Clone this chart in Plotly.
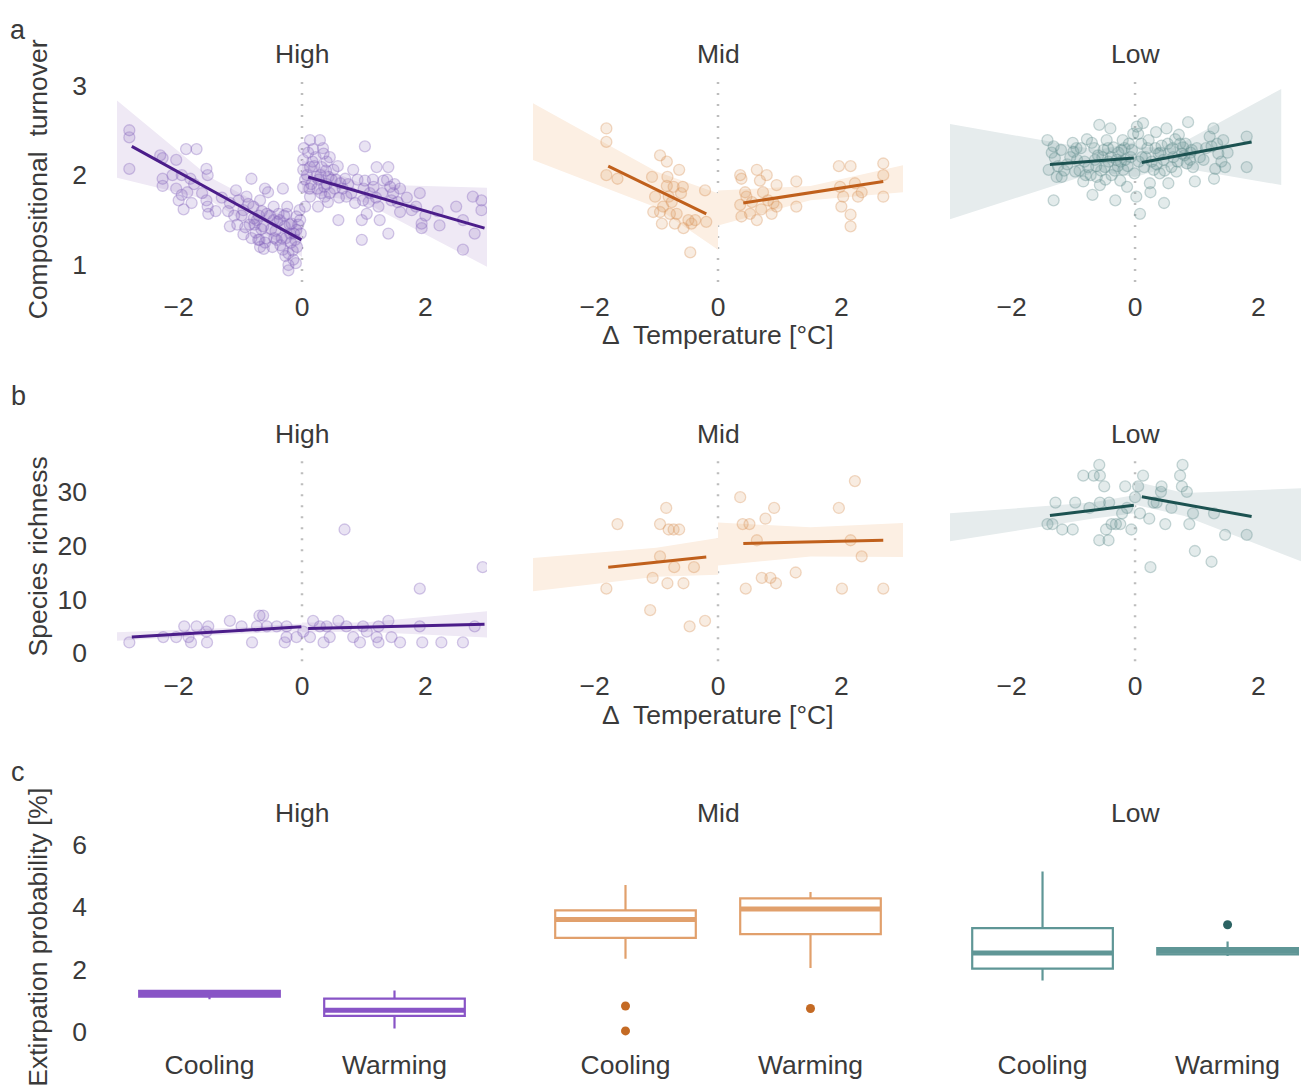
import plotly.graph_objects as go

W, H = 1309, 1090
FONT = "Liberation Sans"
TXT = "#3a3a3a"
FS = 26.5

levels = ["High", "Mid", "Low"]
groups = ["Cooling", "Warming"]
x_ticks = [-2, 0, 2]
turn_ticks = [1, 2, 3]
rich_ticks = [0, 10, 20, 30]
ext_ticks = [0, 2, 4, 6]

# ---------------- a: compositional turnover (x = dT, y = turnover) ----------------
turn_high_cool = [(-2.80, 2.50), (-2.80, 2.42), (-2.80, 2.07), (-2.26, 2.19), (-2.26, 1.96), (-2.26, 1.88),
                  (-2.04, 2.17), (-2.04, 1.85), (-2.00, 1.72), (-1.92, 1.62), (-1.88, 2.29), (-1.86, 1.81),
                  (-1.81, 1.96), (-1.71, 2.29), (-1.79, 1.69), (-1.55, 2.07), (-1.53, 2.00), (-1.55, 1.72),
                  (-1.52, 1.57), (-1.53, 1.65), (-1.17, 1.69), (-1.17, 1.43), (-1.07, 1.83), (-1.03, 1.72),
                  (-0.95, 1.61), (-0.95, 1.34), (-0.90, 1.76), (-0.82, 1.96), (-0.79, 1.65), (-0.78, 1.52),
                  (-0.73, 1.50), (-0.69, 1.28), (-0.68, 1.72), (-0.63, 1.43), (-0.60, 1.85), (-0.57, 1.57),
                  (-0.55, 1.81), (-0.46, 1.50), (-0.46, 1.65), (-0.41, 1.28), (-0.38, 1.57), (-0.31, 1.85),
                  (-0.31, 1.17), (-0.28, 1.43), (-0.25, 1.57), (-0.24, 1.65), (-0.22, 1.13), (-0.19, 1.35),
                  (-0.17, 1.46), (-0.14, 1.06), (-0.11, 1.28), (-0.09, 1.54), (-0.09, 1.39), (-0.04, 1.61),
                  (-0.22, 0.94), (-0.22, 1.00), (-0.71, 1.28), (-0.68, 1.20), (-2.30, 2.22), (-1.95, 2.00),
                  (-1.62, 1.80), (-1.40, 1.60), (-1.30, 1.75), (-1.10, 1.55), (-0.85, 1.45), (-0.75, 1.36),
                  (-0.60, 1.25), (-0.50, 1.40), (-0.45, 1.30), (-0.35, 1.22), (-0.26, 1.30), (-0.15, 1.16),
                  (-0.06, 1.45), (-0.10, 1.02), (-0.65, 1.60), (-0.40, 1.48), (-2.10, 2.00), (-1.95, 1.78),
                  (-1.75, 1.90), (-1.20, 1.60), (-1.05, 1.45), (-0.98, 1.55), (-0.92, 1.42), (-0.87, 1.68),
                  (-0.82, 1.30), (-0.77, 1.45), (-0.70, 1.55), (-0.66, 1.40), (-0.62, 1.18), (-0.58, 1.30),
                  (-0.52, 1.55), (-0.48, 1.20), (-0.43, 1.38), (-0.36, 1.50), (-0.33, 1.30), (-0.29, 1.55),
                  (-0.27, 1.10), (-0.20, 1.45), (-0.18, 1.25), (-0.13, 1.35), (-0.08, 1.20), (-0.03, 1.50),
                  (-0.02, 1.35)]
turn_high_warm = [(0.02, 2.06), (0.02, 1.87), (0.02, 2.17), (0.05, 1.65), (0.13, 2.39), (0.13, 2.09),
                  (0.13, 1.76), (0.18, 2.29), (0.23, 1.98), (0.26, 1.65), (0.29, 2.39), (0.32, 2.09),
                  (0.35, 2.24), (0.36, 1.87), (0.37, 1.76), (0.40, 2.15), (0.43, 1.98), (0.45, 1.80),
                  (0.51, 2.06), (0.59, 1.50), (0.62, 1.91), (0.70, 1.96), (0.72, 1.76), (0.83, 2.06),
                  (0.86, 1.69), (0.97, 1.50), (0.99, 1.72), (1.02, 2.32), (1.02, 1.94), (1.05, 1.57),
                  (1.10, 1.80), (1.16, 1.87), (1.21, 2.09), (1.24, 1.65), (1.26, 1.50), (1.32, 1.94),
                  (1.40, 2.09), (1.40, 1.35), (1.43, 1.87), (1.45, 1.72), (1.48, 1.80), (1.59, 1.85),
                  (1.59, 1.59), (1.78, 1.61), (1.91, 1.80), (1.94, 1.46), (1.94, 1.41), (2.23, 1.44),
                  (2.61, 1.50), (2.61, 1.17), (2.77, 1.76), (2.80, 1.35), (2.91, 1.72), (2.91, 1.61),
                  (0.97, 1.28), (0.05, 1.95), (0.10, 2.25), (0.20, 2.10), (0.25, 1.85), (0.30, 2.00),
                  (0.45, 2.20), (0.55, 1.95), (0.60, 1.75), (0.40, 1.90), (0.15, 1.90), (0.03, 2.30),
                  (0.08, 2.00), (0.12, 1.85), (0.17, 2.15), (0.22, 2.20), (0.27, 1.95), (0.31, 1.80),
                  (0.34, 2.30), (0.39, 2.05), (0.42, 1.70), (0.48, 1.95), (0.53, 1.85), (0.58, 2.10),
                  (0.66, 1.85), (0.75, 1.90), (0.80, 1.80), (0.90, 1.95), (1.00, 1.85), (1.08, 1.70),
                  (1.15, 1.95), (1.20, 1.75), (1.30, 1.80), (1.38, 1.95), (1.50, 1.90), (1.55, 1.70),
                  (1.70, 1.75), (1.85, 1.65), (2.00, 1.55), (2.20, 1.60), (2.50, 1.65)]
turn_mid_cool = [(-1.81, 2.52), (-1.81, 2.37), (-1.81, 2.00), (-1.63, 1.96), (-1.07, 1.98), (-1.02, 1.76),
                 (-0.94, 2.22), (-0.91, 1.46), (-0.89, 1.65), (-0.83, 2.15), (-0.82, 1.98), (-0.80, 1.76),
                 (-0.78, 1.57), (-0.72, 1.87), (-0.70, 1.46), (-0.67, 1.57), (-0.63, 2.06), (-0.57, 1.87),
                 (-0.56, 1.41), (-0.48, 1.50), (-0.45, 1.14), (-0.43, 1.46), (-0.37, 1.50), (-0.21, 1.83),
                 (-0.19, 1.48), (-0.83, 1.88), (-0.94, 1.59), (-1.05, 1.59), (-0.75, 1.70), (-0.60, 1.80)]
turn_mid_warm = [(0.36, 2.00), (0.38, 1.96), (0.36, 1.67), (0.38, 1.54), (0.44, 1.81), (0.46, 1.76),
                 (0.52, 1.57), (0.63, 2.06), (0.63, 1.50), (0.68, 1.94), (0.73, 1.81), (0.79, 2.00),
                 (0.81, 1.72), (0.87, 1.57), (0.90, 1.69), (0.95, 1.89), (0.95, 1.65), (1.27, 1.93),
                 (1.27, 1.65), (1.96, 2.10), (1.98, 1.87), (2.00, 1.65), (2.03, 1.76), (2.15, 2.10),
                 (2.15, 1.56), (2.15, 1.43), (2.22, 1.91), (2.27, 1.76), (2.33, 1.81), (2.68, 2.13),
                 (2.68, 2.00), (2.68, 1.76), (0.55, 1.70), (0.70, 1.62)]
turn_low_cool = [(-1.42, 2.39), (-1.40, 2.06), (-1.32, 2.32), (-1.32, 1.72), (-1.30, 2.19), (-1.27, 1.98),
                 (-1.19, 1.98), (-1.01, 2.36), (-1.00, 2.26), (-0.97, 2.04), (-0.94, 2.17), (-0.84, 1.93),
                 (-0.76, 2.09), (-0.70, 2.36), (-0.69, 1.78), (-0.65, 2.17), (-0.62, 1.98), (-0.58, 2.56),
                 (-0.57, 1.89), (-0.51, 2.28), (-0.49, 2.09), (-0.46, 2.39), (-0.43, 2.15), (-0.40, 2.52),
                 (-0.38, 2.00), (-0.35, 2.31), (-0.32, 1.72), (-0.30, 2.17), (-0.24, 1.94), (-0.22, 2.28),
                 (-0.20, 2.39), (-0.19, 2.06), (-0.16, 2.17), (-0.13, 1.87), (-0.05, 2.28), (-0.03, 2.46),
                 (-0.01, 2.02), (-1.10, 2.12), (-0.88, 2.30), (-0.55, 2.05), (-0.28, 2.10), (-0.60, 2.22),
                 (-0.10, 2.35), (-0.80, 2.00), (-1.20, 2.28), (-1.35, 2.25), (-1.25, 2.10), (-1.15, 2.05),
                 (-1.05, 2.20), (-0.95, 2.30), (-0.90, 2.05), (-0.82, 2.15), (-0.78, 2.40), (-0.72, 2.00),
                 (-0.66, 2.30), (-0.63, 2.10), (-0.53, 2.20), (-0.48, 1.95), (-0.44, 2.30), (-0.39, 2.20),
                 (-0.33, 2.05), (-0.27, 2.25), (-0.23, 2.15), (-0.17, 2.30), (-0.12, 2.10), (-0.07, 2.20)]
turn_low_warm = [(0.02, 1.76), (0.03, 2.54), (0.05, 2.46), (0.08, 1.57), (0.11, 2.20), (0.13, 2.58),
                 (0.15, 2.09), (0.22, 2.39), (0.24, 1.91), (0.25, 1.81), (0.30, 2.06), (0.34, 2.48),
                 (0.38, 2.24), (0.40, 2.02), (0.43, 2.33), (0.46, 2.17), (0.47, 1.69), (0.51, 2.52),
                 (0.54, 1.91), (0.57, 2.28), (0.59, 2.09), (0.62, 2.20), (0.67, 2.04), (0.73, 2.35),
                 (0.76, 2.24), (0.78, 2.31), (0.84, 2.13), (0.86, 2.59), (0.89, 2.17), (0.92, 2.28),
                 (0.94, 2.09), (0.97, 1.93), (1.11, 2.17), (1.21, 2.43), (1.24, 2.32), (1.27, 2.52),
                 (1.28, 1.96), (1.30, 2.07), (1.35, 2.24), (1.43, 2.39), (1.46, 2.09), (1.81, 2.43),
                 (1.81, 2.09), (0.20, 2.30), (0.35, 2.12), (0.65, 2.40), (0.80, 2.22), (1.00, 2.30),
                 (0.06, 2.15), (0.10, 2.35), (0.17, 2.20), (0.27, 2.15), (0.33, 2.30), (0.41, 2.25),
                 (0.48, 2.05), (0.53, 2.35), (0.61, 2.30), (0.69, 2.15), (0.71, 2.45), (0.82, 2.35),
                 (0.90, 2.25), (1.05, 2.20), (1.15, 2.30), (1.33, 2.35), (1.40, 2.15), (1.50, 2.25)]

# fitted segments: (x_start, y_start, x_end, y_end)
turn_fit = {"High": [(-2.76, 2.32, -0.01, 1.28), (0.10, 1.98, 2.96, 1.41)],
            "Mid": [(-1.78, 2.10, -0.19, 1.57), (0.41, 1.69, 2.68, 1.93)],
            "Low": [(-1.38, 2.12, -0.02, 2.19), (0.11, 2.14, 1.89, 2.37)]}
# confidence bands: (x, lower, upper)
turn_band = {"High": [([-3.0, -1.5, 0.0], [1.97, 1.72, 1.09], [2.83, 1.98, 1.43]),
                      ([0.0, 1.0, 3.0], [1.80, 1.70, 0.98], [2.17, 1.90, 1.86])],
             "Mid": [([-3.0, -1.0, 0.0], [2.17, 1.64, 1.17], [2.80, 2.04, 1.80]),
                     ([0.0, 1.5, 3.0], [1.44, 1.72, 1.81], [1.83, 1.88, 2.11])],
             "Low": [([-3.0, -0.6, 0.0], [1.51, 2.04, 1.98], [2.57, 2.28, 2.37]),
                     ([0.0, 0.6, 2.37], [1.98, 2.10, 1.89], [2.32, 2.30, 2.96])]}

# ---------------- b: species richness ----------------
rich_high = [(-2.80, 2), (-2.25, 3), (-2.04, 3), (-1.91, 5), (-1.84, 3), (-1.80, 2), (-1.71, 5), (-1.54, 2),
             (-1.52, 5), (-1.55, 4), (-1.17, 6), (-0.98, 5), (-0.81, 2), (-0.73, 5), (-0.69, 7), (-0.63, 7),
             (-0.57, 5), (-0.41, 5), (-0.28, 2), (-0.25, 3), (-0.25, 5), (-0.09, 3), (0.02, 4), (0.13, 3),
             (0.18, 6), (0.29, 5), (0.35, 2), (0.40, 5), (0.45, 3), (0.59, 6), (0.69, 23), (0.72, 5),
             (0.83, 3), (0.99, 5), (0.94, 2), (1.05, 4), (1.21, 3), (1.24, 5), (1.24, 2), (1.40, 6),
             (1.45, 3), (1.59, 2), (1.91, 12), (1.91, 5), (1.95, 2), (2.26, 2), (2.61, 2), (2.80, 5),
             (2.93, 16)]
rich_mid = [(-1.81, 12), (-1.63, 24), (-1.10, 8), (-1.06, 14), (-0.94, 24), (-0.94, 18), (-0.84, 27),
            (-0.82, 13), (-0.80, 23), (-0.72, 23), (-0.71, 16), (-0.63, 23), (-0.56, 13), (-0.46, 5),
            (-0.39, 16), (-0.21, 6), (0.36, 29), (0.40, 24), (0.45, 12), (0.51, 24), (0.63, 21),
            (0.71, 14), (0.77, 25), (0.85, 14), (0.91, 27), (0.94, 13), (1.26, 15), (1.96, 27),
            (2.01, 12), (2.15, 21), (2.22, 32), (2.33, 18), (2.68, 12)]
rich_low = [(-1.42, 24), (-1.34, 24), (-1.29, 28), (-1.18, 23), (-1.01, 23), (-0.97, 28), (-0.84, 33),
            (-0.74, 27), (-0.67, 33), (-0.58, 35), (-0.58, 21), (-0.57, 33), (-0.57, 28), (-0.50, 31),
            (-0.47, 23), (-0.43, 21), (-0.42, 28), (-0.38, 24), (-0.31, 24), (-0.24, 24), (-0.21, 26),
            (-0.16, 31), (-0.13, 27), (-0.06, 23), (0.00, 29), (0.05, 31), (0.08, 26), (0.13, 33),
            (0.23, 25), (0.25, 16), (0.30, 28), (0.35, 28), (0.43, 31), (0.42, 30), (0.49, 24),
            (0.59, 27), (0.73, 33), (0.77, 35), (0.76, 31), (0.84, 30), (0.88, 24), (0.94, 26),
            (0.97, 19), (1.24, 17), (1.28, 26), (1.46, 22), (1.81, 22)]

rich_fit = {"High": [(-2.76, 3.0, -0.01, 4.9), (0.10, 4.6, 2.96, 5.4)],
            "Mid": [(-1.78, 16.0, -0.19, 17.9), (0.41, 20.4, 2.68, 21.0)],
            "Low": [(-1.38, 25.6, -0.02, 27.5), (0.11, 29.1, 1.89, 25.4)]}
rich_band = {"High": [([-3.0, -1.0, 0.0], [2.3, 3.6, 4.1], [3.9, 4.8, 5.5]),
                      ([0.0, 1.0, 3.0], [3.9, 4.0, 2.9], [5.7, 5.7, 7.8])],
             "Mid": [([-3.0, -1.0, 0.0], [11.5, 14.2, 14.6], [17.7, 19.6, 21.4]),
                     ([0.0, 1.5, 3.0], [16.3, 18.0, 17.9], [24.3, 23.4, 24.2])],
             "Low": [([-3.0, -0.7, 0.0], [20.8, 25.0, 26.0], [26.0, 28.0, 29.4]),
                     ([0.0, 0.8, 2.82], [27.6, 25.5, 16.5], [31.9, 29.8, 30.7])]}

# ---------------- c: extirpation probability box statistics ----------------
# (lower whisker, q1, median, q3, upper whisker)
ext_stats = {"High": {"Cooling": (1.04, 1.12, 1.22, 1.31, 1.32), "Warming": (0.10, 0.50, 0.68, 1.06, 1.32)},
             "Mid": {"Cooling": (2.34, 3.01, 3.60, 3.89, 4.71), "Warming": (2.04, 3.13, 3.94, 4.28, 4.48)},
             "Low": {"Cooling": (1.64, 2.02, 2.52, 3.32, 5.14), "Warming": (2.43, 2.48, 2.58, 2.68, 2.89)}}
ext_outliers = {"High": {"Cooling": [], "Warming": []},
                "Mid": {"Cooling": [0.82, 0.02], "Warming": [0.74]},
                "Low": {"Cooling": [], "Warming": [3.43]}}

turn_pts = {"High": (turn_high_cool, turn_high_warm), "Mid": (turn_mid_cool, turn_mid_warm),
            "Low": (turn_low_cool, turn_low_warm)}
rich_pts = {"High": rich_high, "Mid": rich_mid, "Low": rich_low}

style = {
    "High": dict(line="#4b1d8a", pt="132,100,188", band="#efe9f5", box="#8854c6", out="#6b3aa8"),
    "Mid": dict(line="#c0601c", pt="216,148,88", band="#fcefe3", box="#e1a06c", out="#c46a24"),
    "Low": dict(line="#1c5251", pt="98,142,142", band="#e6eced", box="#5f9696", out="#2b6262"),
}

# mapping from pixel positions of the target picture to paper fractions
X_OFF = 8.0
Y_OFF, Y_SCALE = 12.4, 0.991


def px_x(p):
    return (p - X_OFF) / W


def px_y(p):
    return 1 - ((p - Y_OFF) / Y_SCALE) / H


# ---------------- layout geometry (pixel positions in the target picture) ----------------
col_px = [(117, 487), (533, 903), (950, 1309)]
row_px = [(75, 282), (455, 662), (830, 1045)]
xr_cont = [[-3, 3], [-3, 3], [-3, 2.82]]
xr_cat = [[-0.5, 1.5], [-0.5, 1.5], [-0.5, 1.44]]
yr = [[0.81, 3.11], [-1.5, 36.9], [-0.385, 6.51]]
BOXW = 0.76

fig = go.Figure()


def ax_name(r, c):
    i = r * 3 + c + 1
    return ("x" if i == 1 else f"x{i}"), ("y" if i == 1 else f"y{i}")


for r in range(3):
    for c in range(3):
        i = r * 3 + c + 1
        xa, ya = ax_name(r, c)
        xkey = "xaxis" if i == 1 else f"xaxis{i}"
        ykey = "yaxis" if i == 1 else f"yaxis{i}"
        x0, x1 = col_px[c]
        y0, y1 = row_px[r]
        xcfg = dict(domain=[max(0, px_x(x0)), min(1, px_x(x1))], anchor=ya, showgrid=False, zeroline=False,
                    showline=False, ticks="", tickfont=dict(family=FONT, size=FS, color=TXT), fixedrange=True)
        if r < 2:
            xcfg.update(range=xr_cont[c], tickvals=x_ticks, ticklabelstandoff=6)
        else:
            xcfg.update(range=xr_cat[c], tickvals=[0, 1], ticktext=groups, ticklabelstandoff=3)
        ycfg = dict(domain=[px_y(y1), px_y(y0)], anchor=xa, range=yr[r], showgrid=False,
                    zeroline=False, showline=False, ticks="", fixedrange=True,
                    tickfont=dict(family=FONT, size=FS, color=TXT), ticklabelstandoff=29,
                    tickvals=[turn_ticks, rich_ticks, ext_ticks][r], showticklabels=(c == 0))
        fig.layout[xkey] = xcfg
        fig.layout[ykey] = ycfg

# rows a and b
for r, (pts, fits, bands) in enumerate([(turn_pts, turn_fit, turn_band), (rich_pts, rich_fit, rich_band)]):
    for c, lev in enumerate(levels):
        xa, ya = ax_name(r, c)
        st = style[lev]
        for bx, lo, hi in bands[lev]:
            fig.add_trace(go.Scatter(x=bx + bx[::-1], y=hi + lo[::-1], fill="toself", fillcolor=st["band"],
                                     line=dict(width=0), mode="lines", xaxis=xa, yaxis=ya,
                                     showlegend=False, hoverinfo="skip"))
        fig.add_shape(type="line", xref=xa, yref=f"{ya} domain", x0=0, x1=0, y0=0, y1=1,
                      line=dict(color="#bdbdbd", width=2.5, dash="2px,9px"), layer="below")
        if r == 0:
            allp = pts[lev][0] + pts[lev][1]
        else:
            allp = pts[lev]
        fig.add_trace(go.Scatter(x=[p[0] for p in allp], y=[p[1] for p in allp], mode="markers",
                                 marker=dict(size=11, color=f"rgba({st['pt']},0.18)",
                                             line=dict(width=1.3, color=f"rgba({st['pt']},0.34)")),
                                 xaxis=xa, yaxis=ya, showlegend=False))
        for xs, ys, xe, ye in fits[lev]:
            fig.add_trace(go.Scatter(x=[xs, xe], y=[ys, ye], mode="lines",
                                     line=dict(color=st["line"], width=3), xaxis=xa, yaxis=ya,
                                     showlegend=False))

# row c boxes
for c, lev in enumerate(levels):
    xa, ya = ax_name(2, c)
    st = style[lev]
    for k, g in enumerate(groups):
        lf, q1, med, q3, uf = ext_stats[lev][g]
        fig.add_trace(go.Box(x=[k], q1=[q1], median=[med], q3=[q3], lowerfence=[lf], upperfence=[uf],
                             width=BOXW, line=dict(color=st["box"], width=2.2), fillcolor="rgba(0,0,0,0)",
                             boxpoints=False, whiskerwidth=0, xaxis=xa, yaxis=ya, showlegend=False))
        fig.add_trace(go.Scatter(x=[k - BOXW / 2, k + BOXW / 2], y=[med, med], mode="lines",
                                 line=dict(color=st["box"], width=5), xaxis=xa, yaxis=ya, showlegend=False))
        outs = ext_outliers[lev][g]
        if outs:
            fig.add_trace(go.Scatter(x=[k] * len(outs), y=outs, mode="markers",
                                     marker=dict(size=9, color=st["out"]), xaxis=xa, yaxis=ya,
                                     showlegend=False))

# annotations
ann = []
title_y = [53, 434, 814]
title_x = [302, 718, 1135]
for r in range(3):
    for c, lev in enumerate(levels):
        ann.append(dict(text=lev, x=px_x(title_x[c]), y=px_y(title_y[r]), xref="paper", yref="paper",
                        showarrow=False, xanchor="center", yanchor="middle",
                        font=dict(family=FONT, size=FS, color=TXT)))
for yy in [335, 716]:
    ann.append(dict(text="Δ  Temperature [°C]", x=px_x(718), y=px_y(yy), xref="paper", yref="paper",
                    showarrow=False, xanchor="center", yanchor="middle",
                    font=dict(family=FONT, size=FS, color=TXT)))
for txt, yy in [("Compositional  turnover", 179), ("Species richness", 557),
                ("Extirpation probability [%]", 939)]:
    ann.append(dict(text=txt, x=px_x(38), y=px_y(yy), xref="paper", yref="paper", textangle=-90,
                    showarrow=False, xanchor="center", yanchor="middle",
                    font=dict(family=FONT, size=FS, color=TXT)))
# panel letters ("a" kept fully inside the page)
ann.append(dict(text="a", x=px_x(18), y=1, xref="paper", yref="paper", showarrow=False,
                xanchor="center", yanchor="top", font=dict(family=FONT, size=27, color=TXT)))
for txt, xx, yy in [("b", 18, 396), ("c", 18, 773)]:
    ann.append(dict(text=txt, x=px_x(xx), y=px_y(yy), xref="paper", yref="paper", showarrow=False,
                    xanchor="center", yanchor="middle", font=dict(family=FONT, size=27, color=TXT)))

fig.update_layout(width=W, height=H, margin=dict(l=0, r=0, t=0, b=0), paper_bgcolor="white",
                  plot_bgcolor="white", annotations=ann, showlegend=False)

fig.write_html("out.html")
